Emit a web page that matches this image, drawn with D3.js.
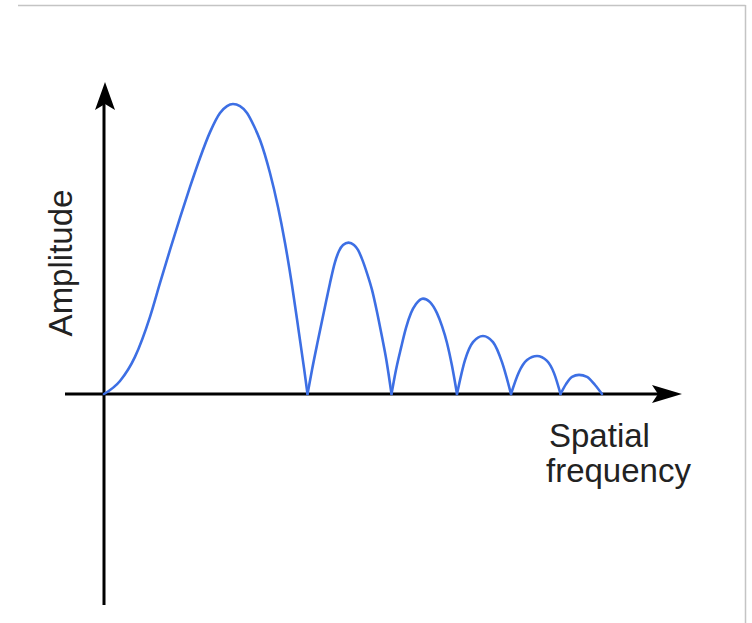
<!DOCTYPE html>
<html>
<head>
<meta charset="utf-8">
<script src="https://cdn.jsdelivr.net/npm/d3@7"></script>
<style>
  html, body { margin: 0; padding: 0; background: #ffffff; }
  svg { display: block; }
</style>
</head>
<body>
<svg id="chart" width="752" height="623"></svg>
<script>
// Spatial frequency (arbitrary units) and amplitude (relative, peak = 1)
const freq = [
  0, 0.276, 0.534, 0.793, 0.966, 1.138, 1.31, 1.483, 1.655, 1.828, 2.0, 2.121, 2.224, 2.345, 2.466, 2.586, 2.69, 2.862, 3.0, 3.121, 3.241, 3.362, 3.448, 3.509,
  3.586, 3.69, 3.845, 3.897, 3.983, 4.052, 4.121, 4.216, 4.31, 4.379, 4.448, 4.534, 4.621, 4.707, 4.793, 4.871, 4.957,
  5.034, 5.121, 5.207, 5.293, 5.379, 5.5, 5.621, 5.741, 5.828, 5.914, 6.0, 6.086,
  6.224, 6.362, 6.534, 6.707, 6.862, 7.017,
  7.155, 7.293, 7.466, 7.638, 7.759, 7.871,
  7.966, 8.069, 8.19, 8.328, 8.466, 8.586
];
const amp = [
  0, 0.045, 0.128, 0.266, 0.383, 0.497, 0.607, 0.714, 0.814, 0.903, 0.969, 0.993, 1.0, 0.993, 0.969, 0.924, 0.876, 0.762, 0.645, 0.521, 0.376, 0.21, 0.09, 0,
  0.083, 0.186, 0.334, 0.383, 0.455, 0.493, 0.514, 0.522, 0.514, 0.497, 0.466, 0.417, 0.359, 0.283, 0.197, 0.114, 0,
  0.083, 0.159, 0.228, 0.279, 0.31, 0.329, 0.317, 0.279, 0.234, 0.176, 0.097, 0,
  0.117, 0.179, 0.2, 0.179, 0.11, 0,
  0.076, 0.117, 0.131, 0.114, 0.072, 0,
  0.034, 0.059, 0.066, 0.059, 0.031, 0
];
const xLabelLines = ["Spatial", "frequency"];
const yLabel = "Amplitude";

const svg = d3.select("#chart");

// frame lines (top and right)
svg.append("line").attr("x1", 18).attr("x2", 745.5).attr("y1", 5.5).attr("y2", 5.5)
  .attr("stroke", "#c4c4c4").attr("stroke-width", 1.5);
svg.append("line").attr("x1", 745.5).attr("x2", 745.5).attr("y1", 5).attr("y2", 623)
  .attr("stroke", "#c4c4c4").attr("stroke-width", 1.5);

const x = d3.scaleLinear().domain([0, 10]).range([104, 684]);
const y = d3.scaleLinear().domain([0, 1]).range([394, 104]);

// split series into lobes at interior zeros
const pts = freq.map((f, i) => [f, amp[i]]);
const lobes = [];
let cur = [pts[0]];
for (let i = 1; i < pts.length; i++) {
  cur.push(pts[i]);
  if (pts[i][1] === 0 && i < pts.length - 1) { lobes.push(cur); cur = [pts[i]]; }
}
lobes.push(cur);

const line = d3.line().x(d => x(d[0])).y(d => y(d[1])).curve(d3.curveMonotoneX);

// axes
const ox = x(0), oy = y(0);
svg.append("line").attr("x1", 65).attr("x2", 664).attr("y1", oy).attr("y2", oy)
  .attr("stroke", "#000").attr("stroke-width", 3);
svg.append("line").attr("x1", ox).attr("x2", ox).attr("y1", 605).attr("y2", 100)
  .attr("stroke", "#000").attr("stroke-width", 3);
// arrowheads
const tipX = 682, tipY = 82;
svg.append("path")
  .attr("d", `M${tipX},${oy} L${tipX - 30},${oy - 9} L${tipX - 24},${oy} L${tipX - 30},${oy + 9} Z`)
  .attr("fill", "#000");
svg.append("path")
  .attr("d", `M${ox + 1},${tipY} L${ox - 9},${tipY + 28} L${ox + 1},${tipY + 22} L${ox + 11},${tipY + 28} Z`)
  .attr("fill", "#000");

svg.append("g").selectAll("path").data(lobes).join("path")
  .attr("d", line)
  .attr("fill", "none")
  .attr("stroke", "#3d6fe4")
  .attr("stroke-width", 2.6)
  .attr("stroke-linejoin", "round")
  .attr("stroke-linecap", "round");

// labels
const font = "'Liberation Sans', Arial, Helvetica, sans-serif";
svg.append("text")
  .attr("transform", "translate(72,263) rotate(-90)")
  .attr("text-anchor", "middle")
  .attr("font-family", font)
  .attr("font-size", 33)
  .attr("fill", "#222")
  .text(yLabel);

svg.append("text")
  .attr("font-family", font)
  .attr("font-size", 33)
  .attr("fill", "#222")
  .selectAll("tspan").data(xLabelLines).join("tspan")
  .attr("x", (d, i) => i === 0 ? 549 : 546)
  .attr("y", (d, i) => 447 + i * 35)
  .text(d => d);
</script>
</body>
</html>
